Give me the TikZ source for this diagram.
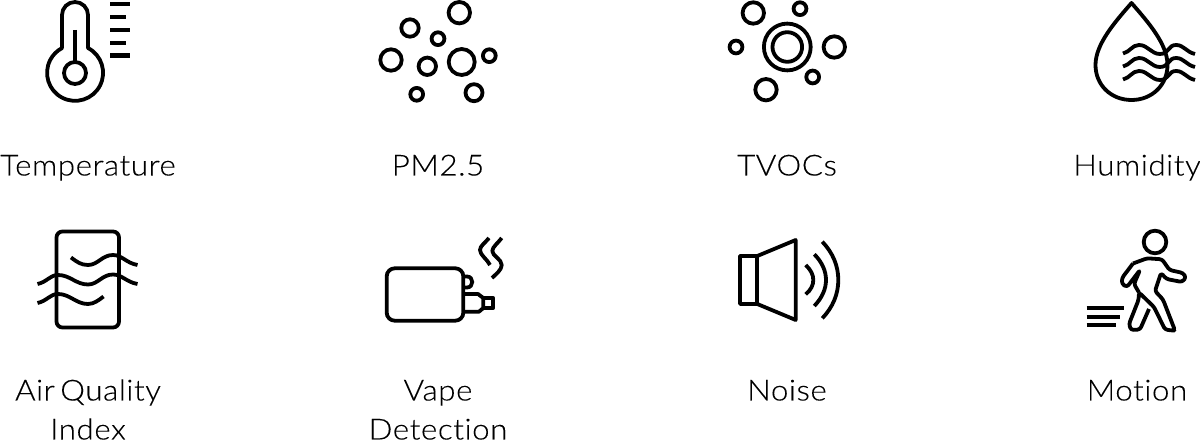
\documentclass[tikz,border=0pt]{standalone}
\usepackage{fontspec}
\setmainfont{Lato Light}[FakeStretch=1.08,LetterSpace=2,WordSpace=0.6,Ligatures=NoCommon,FakeBold=0.15]
\usepackage{tikz}

\tikzset{
  ico/.style={line width=3.8pt, line join=round, black},
  tick/.style={line width=4.2pt, black},
  lbl/.style={font=\fontsize{29}{29}\selectfont, text=black, inner sep=0pt, anchor=base}
}

\begin{document}
\begin{tikzpicture}[x=1pt,y=-1pt]
	\useasboundingbox (0,0) rectangle (1200,443);

	% thermometer
	\draw[ico] (62,48) -- (62,15) arc (180:360:13) -- (88,48) arc (-62.5:242.5:28) -- cycle;
	\draw[ico] (75,73) circle[radius=11];
	\draw[ico] (75,30) -- (75,62);
	\foreach \y/\xend in {4/130,17/126,30/130,43/126,55.5/130}
	\draw[tick] (110,\y) -- (\xend,\y);

	% PM2.5 and TVOCs circles
	\foreach \cx/\cy/\r in {459.3/12.7/10.7,410/28/8.7,438/38.7/6.4,391/60/10.7,427.3/66.3/8.7,
		461.7/62/13,489.3/55.7/6.4,416.7/94.3/6.4,474/92.7/8.5,
		753.3/13/10.7,800/8.7/6.4,736/47/6.4,787.3/47/23.4,787.3/47/14.8,
		834.3/47/10.7,812.7/77/6.4,766/89.7/10.7}
	\draw[ico] (\cx,\cy) circle[radius=\r];

	% drop
	\draw[ico] (1131.5,3) .. controls (1115,22) and (1095.5,44) .. (1095.5,65)
		.. controls (1095.5,85) and (1111,100) .. (1131.5,100)
		.. controls (1152,100) and (1167.5,85) .. (1167.5,65)
		.. controls (1167.5,44) and (1148,22) .. (1131.5,3) -- cycle;
	\foreach \dy in {0,13,26}
	\draw[ico] (1123,53.5+\dy) .. controls (1130,52+\dy) and (1132,45+\dy) .. (1139,45+\dy)
		.. controls (1148,45+\dy) and (1151,54+\dy) .. (1160,54+\dy)
		.. controls (1169,54+\dy) and (1168,45+\dy) .. (1176,45+\dy)
		.. controls (1184,45+\dy) and (1186,52+\dy) .. (1195,54+\dy);

	% air quality
	\draw[ico, rounded corners=6pt] (56.5,231.5) rectangle (119,327.5);
	\draw[ico] (71,257.5) .. controls (77,262) and (81,265) .. (88,265)
		.. controls (98,265) and (102,255) .. (113,255)
		.. controls (122,255) and (126,263) .. (137.5,265);
	\draw[ico] (37.5,284) .. controls (47,282) and (50,275) .. (58,275)
		.. controls (70,275) and (76,284.5) .. (88,284.5)
		.. controls (98,284.5) and (102,274.5) .. (113,274.5)
		.. controls (122,274.5) and (126,282) .. (137.5,284);
	\draw[ico] (37.5,303) .. controls (47,301) and (50,294) .. (58,294)
		.. controls (70,294) and (76,304) .. (88,304)
		.. controls (94,304) and (99,300) .. (103.5,296.5);

	% vape
	\draw[ico, rounded corners=8pt] (386.7,268.3) rectangle (463.3,320.7);
	\draw[ico] (463.3,276.5) -- (467,276.5) .. controls (474,276.5) and (474,287.5) .. (467,287.5) -- (463.3,287.5);
	\draw[ico] (463.3,294) -- (478,294) -- (483.3,298) -- (483.3,308) -- (479,311.7) -- (463.3,311.7);
	\draw[ico] (483.3,298.3) -- (493.3,298.3) -- (493.3,307.7) -- (483.3,307.7);
	\draw[ico] (489,238) .. controls (485,243) and (480,246) .. (480,250)
		.. controls (480,255) and (487,259) .. (490,265);
	\draw[ico] (501.7,238) .. controls (498,243) and (492.3,247) .. (492.3,251)
		.. controls (492.3,256) and (501.7,259) .. (501.7,265)
		.. controls (501.7,270) and (496,274) .. (492,278);

	% noise
	\draw[ico] (740,256) rectangle (757.3,304);
	\draw[ico] (757.3,256) -- (795.7,240) -- (795.7,320) -- (757.3,304);
	\draw[ico] (805.7,265) .. controls (811,270) and (813.3,275) .. (813.3,280) .. controls (813.3,285) and (811,290) .. (805.7,294.3);
	\draw[ico] (814.3,254.3) .. controls (822,262) and (826,271) .. (826,280) .. controls (826,289) and (822,298) .. (814.3,306);
	\draw[ico] (822.3,241.7) .. controls (833,253) and (838.3,266) .. (838.3,280) .. controls (838.3,294) and (833,307) .. (822.3,318.3);

	% motion
	\draw[ico] (1155,242) circle[radius=11.3];
	\draw[ico, rounded corners=2.5pt] (1133,263.5) -- (1147,258.3) -- (1162,259.3) -- (1169.5,270) -- (1183,273)
		-- (1186,277.5) -- (1182,282) -- (1166.5,279) -- (1161,273) -- (1155,291)
		-- (1163,299.5) -- (1175,330.5) -- (1172,330.5) -- (1165,329.5) -- (1154,307) -- (1139,292.5)
		-- (1138.5,300) -- (1129,324) -- (1131,330) -- (1140,329.5) -- (1149,309);
	\draw[ico, rounded corners=2.5pt] (1133,263.5) -- (1122,278) -- (1122,284) -- (1127,287) -- (1140,270) -- (1134,284) -- (1139,292.5);
	\foreach \y/\xend in {307.7/1124,316.7/1120,325.3/1115.7}
	\draw[tick] (1086.7,\y) -- (\xend,\y);

	% labels
	\node[lbl] (temp) at (88,175.5) {Temperature};
	\node[lbl] (pm) at (438,175.5) {PM2.5};
	\node[lbl] (tvoc) at (787,175.5) {TVOCs};
	\node[lbl] (hum) at (1137,175.5) {Humidity};
	\node[lbl] (aqi1) at (88,400.5) {Air Quality};
	\node[lbl] (aqi2) at (88,439.5) {Index};
	\node[lbl] (vape1) at (438,400.5) {Vape};
	\node[lbl] (vape2) at (438,439.5) {Detection};
	\node[lbl] (noise) at (787,400.5) {Noise};
	\node[lbl] (motion) at (1137,400.5) {Motion};
\end{tikzpicture}
\end{document}
